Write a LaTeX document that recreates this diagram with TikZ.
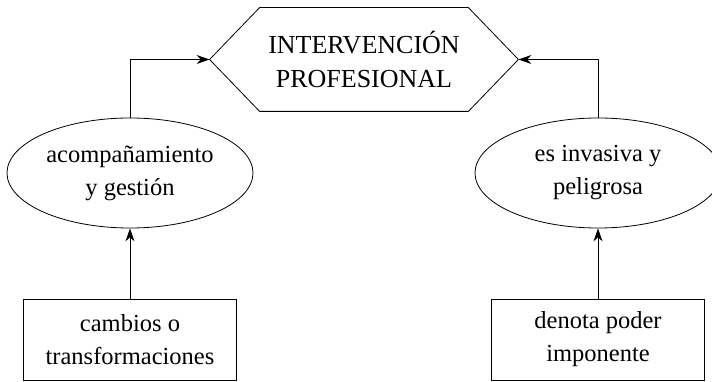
\documentclass[tikz,border=0pt]{standalone}
\usepackage{fontspec}
\setmainfont{Liberation Serif}
\usetikzlibrary{shapes.geometric,arrows.meta}

\tikzset{
	texto/.style={align=center,font=\fontsize{24.5}{33}\selectfont,line width=0.8pt},
	hexa/.style={texto,shape=rectangle,minimum width=308pt,minimum height=103pt,inner sep=0pt,font=\fontsize{26}{34}\selectfont},
	elipse/.style={texto,shape=ellipse,draw=black,minimum width=246pt,minimum height=110pt,inner sep=0pt},
	caja/.style={texto,shape=rectangle,draw=black,minimum width=213pt,minimum height=81pt,inner sep=0pt},
	flecha/.style={-{Stealth[length=13pt,width=9pt]},line width=0.8pt}
}

\begin{document}
\begin{tikzpicture}[x=1pt,y=1pt]
	\useasboundingbox (0,0) rectangle (712,381);
	\clip (0,0) rectangle (712,381);

	\node[hexa] (inter) at (364, 321.5) {INTERVENCIÓN\\PROFESIONAL};
	\node[elipse] (acomp) at (130, 208) {acompañamiento\\y gestión};
	\node[elipse] (invas) at (598, 208) {es invasiva y\\peligrosa};
	\node[caja] (cambios) at (130, 41.5) {cambios o\\transformaciones};
	\node[caja] (denota) at (598, 41.5) {denota poder\\imponente};

	% contorno del hexagono
	\draw[line width=0.8pt,line join=miter] ([xshift=50pt]inter.north west) -- ([xshift=-50pt]inter.north east)
		-- (inter.east) -- ([xshift=-50pt]inter.south east) -- ([xshift=50pt]inter.south west)
		-- (inter.west) -- cycle;

	\draw[flecha] (acomp.north) |- (inter.west);
	\draw[flecha] (invas.north) |- (inter.east);
	\draw[flecha] (cambios.north) -- (acomp.south);
	\draw[flecha] (denota.north) -- (invas.south);
\end{tikzpicture}
\end{document}
